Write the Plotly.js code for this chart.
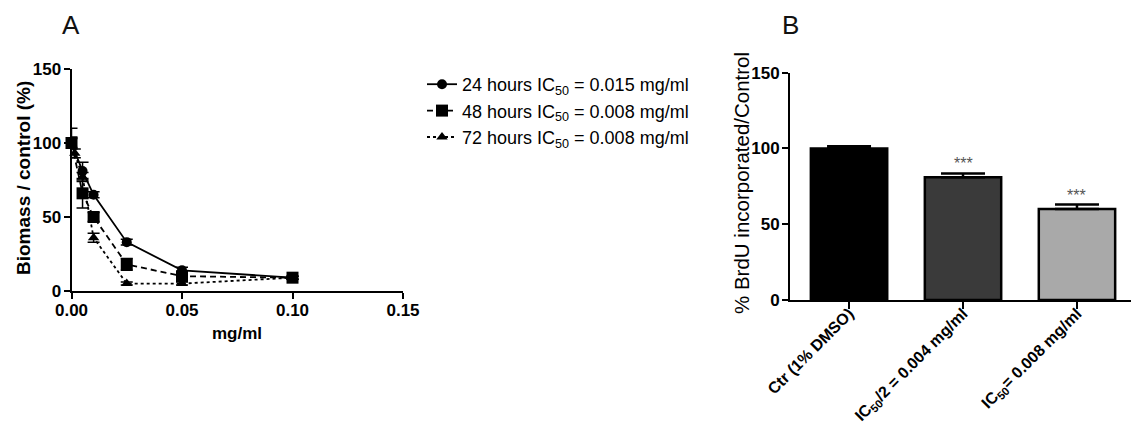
<!DOCTYPE html>
<html>
<head>
<meta charset="utf-8">
<script src="https://cdn.plot.ly/plotly-3.0.1.min.js"></script>
<style>html,body{margin:0;padding:0;background:#fff;}#chart{width:1131px;height:439px;}</style>
</head>
<body>
<div id="chart"></div>
<script>
// ---- Panel A data (biomass / control, %) ----
const dose24 = [0, 0.005, 0.01, 0.025, 0.05, 0.1];
const biomass24 = [100, 81, 65, 33, 14, 9];
const err24 = [10, 6, 2, 2, 2, 1];
const dose48 = [0, 0.005, 0.01, 0.025, 0.05, 0.1];
const biomass48 = [100, 66, 50, 18, 10, 9];
const err48 = [3, 10, 3, 4, 2, 1];
const dose72 = [0, 0.0015, 0.005, 0.01, 0.025, 0.05, 0.1];
const biomass72 = [100, 93, 77, 36, 5, 5, 9];
const err72 = [4, 3, 3, 3, 1, 1, 1];
const seriesNames = [
  "24 hours IC<sub>50</sub> = 0.015 mg/ml",
  "48 hours IC<sub>50</sub> = 0.008 mg/ml",
  "72 hours IC<sub>50</sub> = 0.008 mg/ml"
];
const xTicksA = [0, 0.05, 0.10, 0.15];
const yTicks = [0, 50, 100, 150];

// ---- Panel B data (% BrdU incorporated / control) ----
const groups = ["Ctr (1% DMSO)", "IC<sub>50</sub>/2 = 0.004 mg/ml", "IC<sub>50</sub>= 0.008 mg/ml"];
const brdu = [100, 81, 60];
const brduErr = [1.5, 2.5, 3];
const significance = ["", "***", "***"];

const W = 1131, H = 439;
const px = x => x / W;
const py = y => 1 - y / H;
const FONT = "Liberation Sans, Arial, sans-serif";
const tickFont = {family: FONT, size: 17, color: "#000", weight: "bold"};

const errStyle = (arr) => ({type: "data", array: arr, visible: true, color: "#000", thickness: 1.5, width: 6});

const traces = [
  {x: dose24, y: biomass24, error_y: errStyle(err24), name: seriesNames[0], type: "scatter", mode: "lines+markers",
   line: {color: "#000", width: 1.8, dash: "solid"}, marker: {symbol: "circle", size: 10, color: "#000"},
   xaxis: "x", yaxis: "y", cliponaxis: false},
  {x: dose48, y: biomass48, error_y: errStyle(err48), name: seriesNames[1], type: "scatter", mode: "lines+markers",
   line: {color: "#000", width: 1.8, dash: "6px,4px"}, marker: {symbol: "square", size: 12, color: "#000"},
   xaxis: "x", yaxis: "y", cliponaxis: false},
  {x: dose72, y: biomass72, error_y: errStyle(err72), name: seriesNames[2], type: "scatter", mode: "lines+markers",
   line: {color: "#000", width: 1.8, dash: "dot"}, marker: {symbol: "triangle-up", size: 10, color: "#000"},
   xaxis: "x", yaxis: "y", cliponaxis: false},
  {x: groups, y: brdu, type: "bar", width: 0.67, showlegend: false,
   marker: {color: ["#000000", "#3a3a3a", "#a9a9a9"], line: {color: "#000", width: 2.5}},
   error_y: {type: "data", array: brduErr, arrayminus: [0, 0, 0], symmetric: false, visible: true, color: "#000", thickness: 2.5, width: 22},
   xaxis: "x2", yaxis: "y2", cliponaxis: false}
];

const ann = (text, x, y, font, extra) => Object.assign({text: text, x: px(x), y: py(y), xref: "paper", yref: "paper",
  showarrow: false, xanchor: "center", yanchor: "middle", font: font}, extra || {});

const annotations = [
  ann("A", 71, 25, {family: FONT, size: 26, color: "#111"}),
  ann("B", 790, 25, {family: FONT, size: 26, color: "#111"}),
  ann("Biomass / control (%)", 23, 178, {family: FONT, size: 19, color: "#000", weight: "bold"}, {textangle: -90}),
  ann("mg/ml", 237, 333, {family: FONT, size: 17, color: "#000", weight: "bold"}),
  ann("% BrdU incorporated/Control", 741, 183, {family: FONT, size: 20.5, color: "#000"}, {textangle: -90})
];
groups.forEach((g, i) => {
  if (significance[i]) {
    annotations.push({text: significance[i], x: g, y: brdu[i] + brduErr[i], xref: "x2", yref: "y2", showarrow: false,
      xanchor: "center", yanchor: "bottom", yshift: -1, font: {family: FONT, size: 16, color: "#555"}});
  }
});

const layout = {
  width: W, height: H,
  margin: {l: 0, r: 0, t: 0, b: 0},
  paper_bgcolor: "#fff", plot_bgcolor: "#fff",
  font: {family: FONT, color: "#000"},
  showlegend: true,
  legend: {x: px(422), y: py(66), xanchor: "left", yanchor: "top", bgcolor: "rgba(0,0,0,0)",
    font: {family: FONT, size: 18, color: "#000"}, traceorder: "normal", itemwidth: 30},
  xaxis: {domain: [px(71.5), px(403)], range: [0, 0.15], tickvals: xTicksA, ticktext: xTicksA.map(v => v.toFixed(2)),
    showgrid: false, zeroline: false, showline: true, linecolor: "#000", linewidth: 2,
    ticks: "outside", ticklen: 6, tickwidth: 2, tickcolor: "#000", tickfont: tickFont, anchor: "y", automargin: false,
    ticklabelstandoff: -3},
  yaxis: {domain: [py(291), py(69)], range: [0, 150], tickvals: yTicks,
    showgrid: false, zeroline: false, showline: true, linecolor: "#000", linewidth: 2,
    ticks: "outside", ticklen: 6, tickwidth: 2, tickcolor: "#000", tickfont: tickFont, anchor: "x", automargin: false,
    ticklabelstandoff: -1},
  xaxis2: {domain: [px(790), 1], range: [-0.518, 2.474], type: "category",
    showgrid: false, zeroline: false, showline: true, linecolor: "#000", linewidth: 2,
    ticks: "outside", ticklen: 7, tickwidth: 2, tickcolor: "#000", tickangle: -45,
    tickfont: {family: FONT, size: 16, color: "#000", weight: "bold"}, anchor: "y2", automargin: false,
    ticklabelstandoff: -11},
  yaxis2: {domain: [py(300), py(72.7)], range: [0, 150], tickvals: yTicks,
    showgrid: false, zeroline: false, showline: true, linecolor: "#000", linewidth: 2,
    ticks: "outside", ticklen: 6, tickwidth: 2, tickcolor: "#000", tickfont: tickFont, anchor: "x2", automargin: false,
    ticklabelstandoff: -1},
  annotations: annotations
};

Plotly.newPlot("chart", traces, layout, {displayModeBar: false, staticPlot: true});
</script>
</body>
</html>
